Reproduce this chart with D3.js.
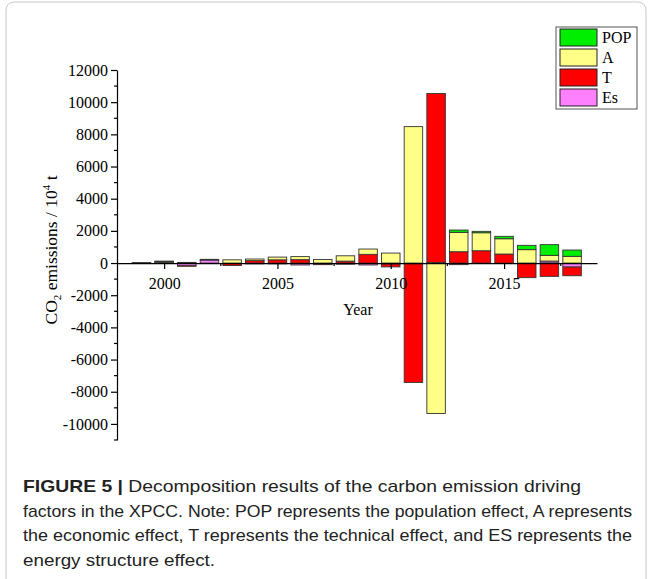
<!DOCTYPE html>
<html>
<head>
<meta charset="utf-8">
<script src="https://cdn.jsdelivr.net/npm/d3@7"></script>
<style>
  body { margin: 0; background: #fff; }
  svg { display: block; }
</style>
</head>
<body>
<div id="chart"></div>
<script>
/* DATA */
const years = [1999, 2000, 2001, 2002, 2003, 2004, 2005, 2006, 2007, 2008,
               2009, 2010, 2011, 2012, 2013, 2014, 2015, 2016, 2017, 2018];
const popVals = [0, 20, 0, 0, 0, 0, 0, 0, 0, 0,
                 0, 0, 0, 0, 143, 87, 150, 267, 665, 392];
const aVals   = [30, 60, 40, 50, 200, 100, 170, 190, 220, 330,
                 330, 620, 8480, -9350, 1206, 1119, 951, 833, 354, 417];
const tVals   = [-20, 40, -30, 0, -150, 150, 200, 210, -100, 120,
                 540, -180, -7380, 10500, 703, 765, 560, -908, -827, -541];
const esVals  = [0, -20, -170, 180, 0, -50, -50, -120, 0, -70,
                 -120, -60, -40, 40, -100, -30, -20, 0, 124, -249];
const yTicks = [12000, 10000, 8000, 6000, 4000, 2000, 0, -2000, -4000, -6000, -8000, -10000];
const xTicks = [2000, 2005, 2010, 2015];

const keys = ["Es", "T", "A", "POP"];           // stack order from the zero line
const legendKeys = ["POP", "A", "T", "Es"];
const colors = {POP: "#00ee00", A: "#ffff88", T: "#ff0000", Es: "#ff80ff"};

const captionLines = [
  "Decomposition results of the carbon emission driving",
  "factors in the XPCC. Note: POP represents the population effect, A represents",
  "the economic effect, T represents the technical effect, and ES represents the",
  "energy structure effect."
];

const table = years.map((y, i) => ({
  year: y, POP: popVals[i], A: aVals[i], T: tVals[i], Es: esVals[i]
}));

/* SIZES */
const width = 652;
const height = 579;

const svg = d3.select("#chart").append("svg")
  .attr("width", width)
  .attr("height", height);

// card border
svg.append("rect")
  .attr("x", 6).attr("y", 2)
  .attr("width", 640).attr("height", 620)
  .attr("rx", 8)
  .attr("fill", "none")
  .attr("stroke", "#c8c8c8")
  .attr("stroke-width", 1);

// SCALES
const xScale = d3.scaleLinear()
  .domain([1997.92, 2019.1])
  .range([117, 597]);

const yScale = d3.scaleLinear()
  .domain([-11000, 12000])
  .range([440, 70]);

const barW = 18.5;

// stacked bars
const series = d3.stack()
  .keys(keys)
  .offset(d3.stackOffsetDiverging)(table);

svg.append("g")
  .selectAll("g")
  .data(series)
  .join("g")
  .attr("fill", d => colors[d.key])
  .selectAll("rect")
  .data(d => d)
  .join("rect")
  .attr("x", d => xScale(d.data.year) - barW / 2)
  .attr("y", d => yScale(Math.max(d[0], d[1])))
  .attr("width", barW)
  .attr("height", d => Math.abs(yScale(d[0]) - yScale(d[1])))
  .attr("stroke", "#333")
  .attr("stroke-width", 0.9);

// AXES
const font = "'Liberation Serif', 'Times New Roman', serif";

// y axis
const yAxis = d3.axisLeft(yScale)
  .tickValues(yTicks)
  .tickSize(6)
  .tickSizeOuter(0)
  .tickFormat(d3.format("d"));
const gy = svg.append("g")
  .attr("transform", "translate(117,0)")
  .call(yAxis);
gy.select(".domain").attr("stroke", "#000").attr("stroke-width", 1.2);
gy.selectAll(".tick line").attr("stroke-width", 1.2);
gy.selectAll("text")
  .attr("font-family", font)
  .attr("font-size", 16)
  .attr("fill", "#000")
  .attr("x", -9)
  .text(d => d < 0 ? "-" + Math.abs(d) : d);

// y minor ticks
const yMinor = d3.range(-11000, 12001, 1000).filter(v => !yTicks.includes(v));
svg.append("g").selectAll("line")
  .data(yMinor)
  .join("line")
  .attr("x1", 117).attr("x2", 114)
  .attr("y1", d => yScale(d)).attr("y2", d => yScale(d))
  .attr("stroke", "#000").attr("stroke-width", 1.2);

// x axis at zero
const xAxis = d3.axisBottom(xScale)
  .tickValues(xTicks)
  .tickSize(6)
  .tickSizeOuter(0)
  .tickFormat(d3.format("d"));
const gx = svg.append("g")
  .attr("transform", `translate(0,${yScale(0)})`)
  .call(xAxis);
gx.select(".domain").attr("stroke", "#000").attr("stroke-width", 1.2);
gx.selectAll(".tick line").attr("stroke-width", 1.2);
gx.selectAll("text")
  .attr("font-family", font)
  .attr("font-size", 16)
  .attr("fill", "#000")
  .attr("dy", "1.05em");

// x minor ticks
const xMinor = [1997.5, 2002.5, 2007.5, 2012.5, 2017.5].filter(v => v > 1997.92);
svg.append("g").selectAll("line")
  .data(xMinor)
  .join("line")
  .attr("x1", d => xScale(d)).attr("x2", d => xScale(d))
  .attr("y1", yScale(0)).attr("y2", yScale(0) + 3)
  .attr("stroke", "#000").attr("stroke-width", 1.2);

// X label
svg.append("text")
  .attr("x", 358)
  .attr("y", 315)
  .attr("text-anchor", "middle")
  .attr("font-family", font)
  .attr("font-size", 16)
  .text("Year");

// Y label
const yl = svg.append("text")
  .attr("transform", "translate(57,250) rotate(-90)")
  .attr("text-anchor", "middle")
  .attr("font-family", font)
  .attr("font-size", 17.5);
yl.append("tspan").text("CO");
yl.append("tspan").attr("font-size", 11).attr("dy", 4).text("2");
yl.append("tspan").attr("dy", -4).text(" emissions / 10");
yl.append("tspan").attr("font-size", 11).attr("dy", -7).text("4");
yl.append("tspan").attr("dy", 7).text(" t");

// LEGEND
const legend = svg.append("g");
legend.append("rect")
  .attr("x", 556).attr("y", 27)
  .attr("width", 81).attr("height", 82)
  .attr("fill", "#fff")
  .attr("stroke", "#555")
  .attr("stroke-width", 1);
const items = legend.selectAll("g.item")
  .data(legendKeys)
  .join("g")
  .attr("class", "item")
  .attr("transform", (d, i) => `translate(560,${29 + i * 20})`);
items.append("rect")
  .attr("width", 37).attr("height", 17)
  .attr("fill", d => colors[d])
  .attr("stroke", "#222")
  .attr("stroke-width", 1);
items.append("text")
  .attr("x", 42).attr("y", 14)
  .attr("font-family", font)
  .attr("font-size", 16)
  .text(d => d);

// CAPTION
const capFont = "'Liberation Sans', Arial, Helvetica, sans-serif";
const cap = svg.append("g");
const lineW = [558, 609, 609, 192];
captionLines.forEach((t, i) => {
  const txt = cap.append("text")
    .attr("x", 23)
    .attr("y", 492 + i * 24.5)
    .attr("font-family", capFont)
    .attr("font-size", 17)
    .attr("fill", "#222");
  if (i === 0) {
    txt.append("tspan").attr("font-weight", "bold").text("FIGURE 5 | ");
  }
  txt.append("tspan").text(t);
  txt.attr("textLength", lineW[i]).attr("lengthAdjust", "spacingAndGlyphs");
});
</script>
</body>
</html>
